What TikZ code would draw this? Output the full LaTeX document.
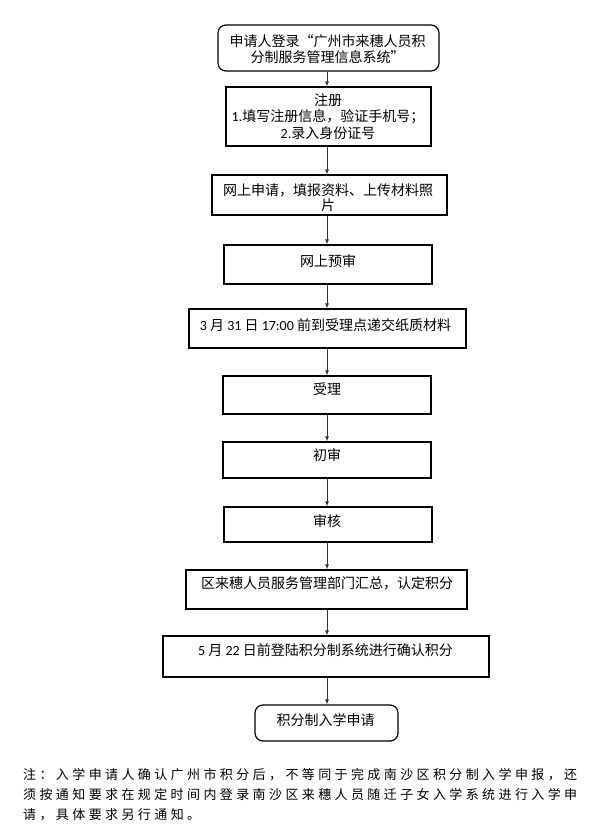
\documentclass[tikz,border=0pt]{standalone}
\usepackage{fontspec}
\setmainfont{Noto Sans CJK SC}
\newfontfamily\lat{Carlito}
\usetikzlibrary{arrows.meta}
\def\sprA#1{\ifx\relax#1\else#1\hfil\expandafter\sprA\fi}
\newcommand\spreadline[2]{\hbox to #1{\sprA#2\relax\unskip}}
\begin{document}
\begin{tikzpicture}[x=1pt,y=-1pt,
  box/.style={draw,line width=1.2pt,inner sep=0pt},
  rbox/.style={box,rounded corners=8pt},
  txt/.style={inner sep=0pt,align=center,font=\fontsize{14}{16.5}\selectfont},
  note/.style={inner sep=0pt,anchor=west,font=\fontsize{13}{15}\selectfont},
  arr/.style={draw=black!80,line width=0.9pt,-{Latex[length=5pt,width=4pt]}}]
\useasboundingbox[fill=white] (0,0) rectangle (609,832);
% boxes
\node[rbox,minimum width=221pt,minimum height=46pt] (b1) at (328.5,48) {};
\node[box,minimum width=205pt,minimum height=59pt] (b2) at (328.5,116.5) {};
\node[box,minimum width=235pt,minimum height=40pt] (b3) at (329.5,195) {};
\node[box,minimum width=208pt,minimum height=39pt] (b4) at (328,264.5) {};
\node[box,minimum width=277pt,minimum height=39pt] (b5) at (327.5,328.5) {};
\node[box,minimum width=208pt,minimum height=38pt] (b6) at (327,395) {};
\node[box,minimum width=208pt,minimum height=36pt] (b7) at (327,460) {};
\node[box,minimum width=208pt,minimum height=35pt] (b8) at (328,524.5) {};
\node[box,minimum width=281pt,minimum height=39pt] (b9) at (326.5,589.5) {};
\node[box,minimum width=326pt,minimum height=41pt] (b10) at (326,656.5) {};
\node[rbox,minimum width=143pt,minimum height=36pt] (b11) at (326.5,723) {};
% texts
\node[txt,font=\fontsize{14}{16}\selectfont] (t1) at (327.5,49) {申请人登录“广州市来穗人员积\\分制服务管理信息系统”};
\node[txt] (t2) at (328,116.5) {注册\\{\lat 1.}填写注册信息，验证手机号；\\{\lat 2.}录入身份证号};
\node[txt,font=\fontsize{14}{15}\selectfont] (t3) at (328,197.5) {网上申请，填报资料、上传材料照\\片};
\node[txt] (t4) at (328,261) {网上预审};
\node[txt] (t5) at (325.5,325) {{\lat 3} 月 {\lat 31} 日 {\lat 17:00} 前到受理点递交纸质材料};
\node[txt] (t6) at (327,389) {受理};
\node[txt] (t7) at (327,455) {初审};
\node[txt] (t8) at (327,521) {审核};
\node[txt] (t9) at (327,583) {区来穗人员服务管理部门汇总，认定积分};
\node[txt] (t10) at (325.5,650) {{\lat 5} 月 {\lat 22} 日前登陆积分制系统进行确认积分};
\node[txt] (t11) at (325.5,720) {积分制入学申请};
% arrows
\coordinate (ax) at (327,0);
\foreach \a/\b in {b1/b2,b2/b3,b3/b4,b4/b5,b5/b6,b6/b7,b7/b8,b8/b9,b9/b10,b10/b11}
  \draw[arr] (\a.south -| ax) -- (\b.north -| ax);
% note
\node[note] (n1) at (23,775) {\spreadline{554pt}{注：入学申请人确认广州市积分后，不等同于完成南沙区积分制入学申报，还}};
\node[note] (n2) at (23,794.5) {\spreadline{554pt}{须按通知要求在规定时间内登录南沙区来穗人员随迁子女入学系统进行入学申}};
\node[note] (n3) at (23,814.5) {\spreadline{177pt}{请，具体要求另行通知。}};
\end{tikzpicture}
\end{document}
